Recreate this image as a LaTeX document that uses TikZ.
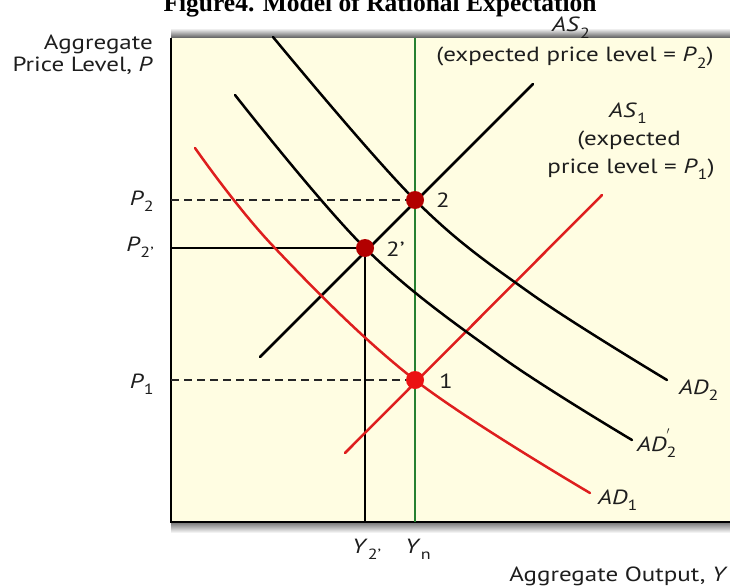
\documentclass[tikz,border=0pt]{standalone}
\usepackage{fontspec}
\usepackage{graphicx}
\setmainfont{PT Sans}[FakeStretch=1.22]
\newfontfamily\titlefont{Liberation Serif}
\definecolor{bgy}{RGB}{255,253,226}
\definecolor{redc}{RGB}{222,30,30}
\definecolor{dotdark}{RGB}{178,0,0}
\definecolor{dotred}{RGB}{235,18,18}
\definecolor{greenc}{RGB}{38,128,48}
\definecolor{txt}{RGB}{30,30,30}
\newcommand\lsub[1]{\raisebox{-0.3em}{\scalebox{0.72}{#1}}}
\newcommand\lsubp[1]{\rlap{\raisebox{0.55em}{\scalebox{0.72}{$'$}}}\raisebox{-0.3em}{\scalebox{0.72}{#1}}}
\begin{document}
\begin{tikzpicture}[x=1pt,y=-1pt,
  lbl/.style={text=txt,font=\fontsize{20.5}{24}\selectfont,inner sep=0pt},
  curveline/.style={line width=2.5pt,line cap=round},
  dashline/.style={line width=2.3pt,dash pattern=on 8pt off 5pt,black!85},
  solidline/.style={line width=2.3pt,black},
  dot/.style={circle,inner sep=0pt,minimum size=18pt},
]
\useasboundingbox (0,0) rectangle (730,586);
\fill[white] (0,0) rectangle (730,586);
% plot background and shadows
\shade[top color=white,bottom color=black!65] (171,28) rectangle (730,38);
\shade[top color=black!55,bottom color=white] (171,522) rectangle (730,533);
\fill[bgy] (171,38) rectangle (730,522);
% axes
\coordinate (o) at (171,522);
\coordinate (ytop) at (171,38);
\coordinate (xend) at (730,522);
\draw[line width=2.5pt] (ytop) -- (o) -- (xend);
% title
\node[font=\titlefont\bfseries\fontsize{25.5}{28}\selectfont,anchor=base,inner sep=0pt] (title) at (380,12) {Figure4. Model of Rational Expectation};
% axis labels
\node[lbl,anchor=base east] (agg) at (153,49) {Aggregate};
\node[lbl,anchor=base east] (plev) at (153,71) {Price Level, \textit{P}};
\node[lbl,anchor=base east] (aout) at (728,581) {Aggregate Output, \textit{Y}};
% intersection points (coordinates)
\coordinate (c2) at (415,200);
\coordinate (c2p) at (365,248);
\coordinate (c1) at (415,380);
% green Yn
\coordinate (yntop) at (415,38);
\coordinate (ynbot) at (415,522);
\draw[greenc,line width=2.3pt] (yntop) -- (ynbot);
% guides
\coordinate (ap2) at (171,200);
\coordinate (ap2p) at (171,248);
\coordinate (ap1) at (171,380);
\coordinate (ay2p) at (365,522);
\draw[dashline] (ap2) -- (c2);
\draw[dashline] (ap1) -- (c1);
\draw[solidline] (ap2p) -- (c2p) -- (ay2p);
% AS curves
\coordinate (as2a) at (260,357);
\coordinate (as2b) at (533,84);
\coordinate (as1a) at (345,453);
\coordinate (as1b) at (602,195);
\draw[curveline] (as2a) -- (as2b);
\draw[curveline,redc] (as1a) -- (as1b);
% AD curves
\draw[curveline] plot[smooth,tension=0.6] coordinates {(273,37) (415,200) (530,293) (667,380)};
\draw[curveline] plot[smooth,tension=0.6] coordinates {(235,95) (365,248) (500,356) (632,440)};
\draw[curveline,redc] plot[smooth,tension=0.6] coordinates {(195,148) (273,246) (415,380) (590,493)};
% dots
\node[dot,fill=dotdark] (p2) at (c2) {};
\node[dot,fill=dotdark] (p2p) at (c2p) {};
\node[dot,fill=dotred] (p1) at (c1) {};
% point labels
\node[lbl,anchor=base west] (l2) at (436,207) {2};
\node[lbl,anchor=base west] (l2p) at (386,256) {2'};
\node[lbl,anchor=base west] (l1) at (439,388) {1};
% price labels
\node[lbl,anchor=base east] (lp2) at (154,205) {\textit{P}\lsub{2}};
\node[lbl,anchor=base east] (lp2p) at (154,251) {\textit{P}\lsub{2'}};
\node[lbl,anchor=base east] (lp1) at (154,388) {\textit{P}\lsub{1}};
% output labels
\node[lbl,anchor=base west] (ly2p) at (352,553) {\textit{Y}\lsub{2'}};
\node[lbl,anchor=base west] (lyn) at (405,553) {\textit{Y}\lsub{n}};
% curve labels
\node[lbl,anchor=base] (las2) at (571,32) {\textit{AS}\lsub{2}};
\node[lbl,anchor=base] (las2t) at (575,62) {(expected price level = \textit{P}\lsub{2})};
\node[lbl,anchor=base] (las1) at (628,117) {\textit{AS}\lsub{1}};
\node[lbl,anchor=base] (las1t) at (629,145) {(expected};
\node[lbl,anchor=base] (las1u) at (631,173) {price level = \textit{P}\lsub{1})};
\node[lbl,anchor=base west] (lad2) at (679,394) {\textit{AD}\lsub{2}};
\node[lbl,anchor=base west] (lad2p) at (637,451) {\textit{AD}\lsubp{2}};
\node[lbl,anchor=base west] (lad1) at (598,504) {\textit{AD}\lsub{1}};
\end{tikzpicture}
\end{document}
